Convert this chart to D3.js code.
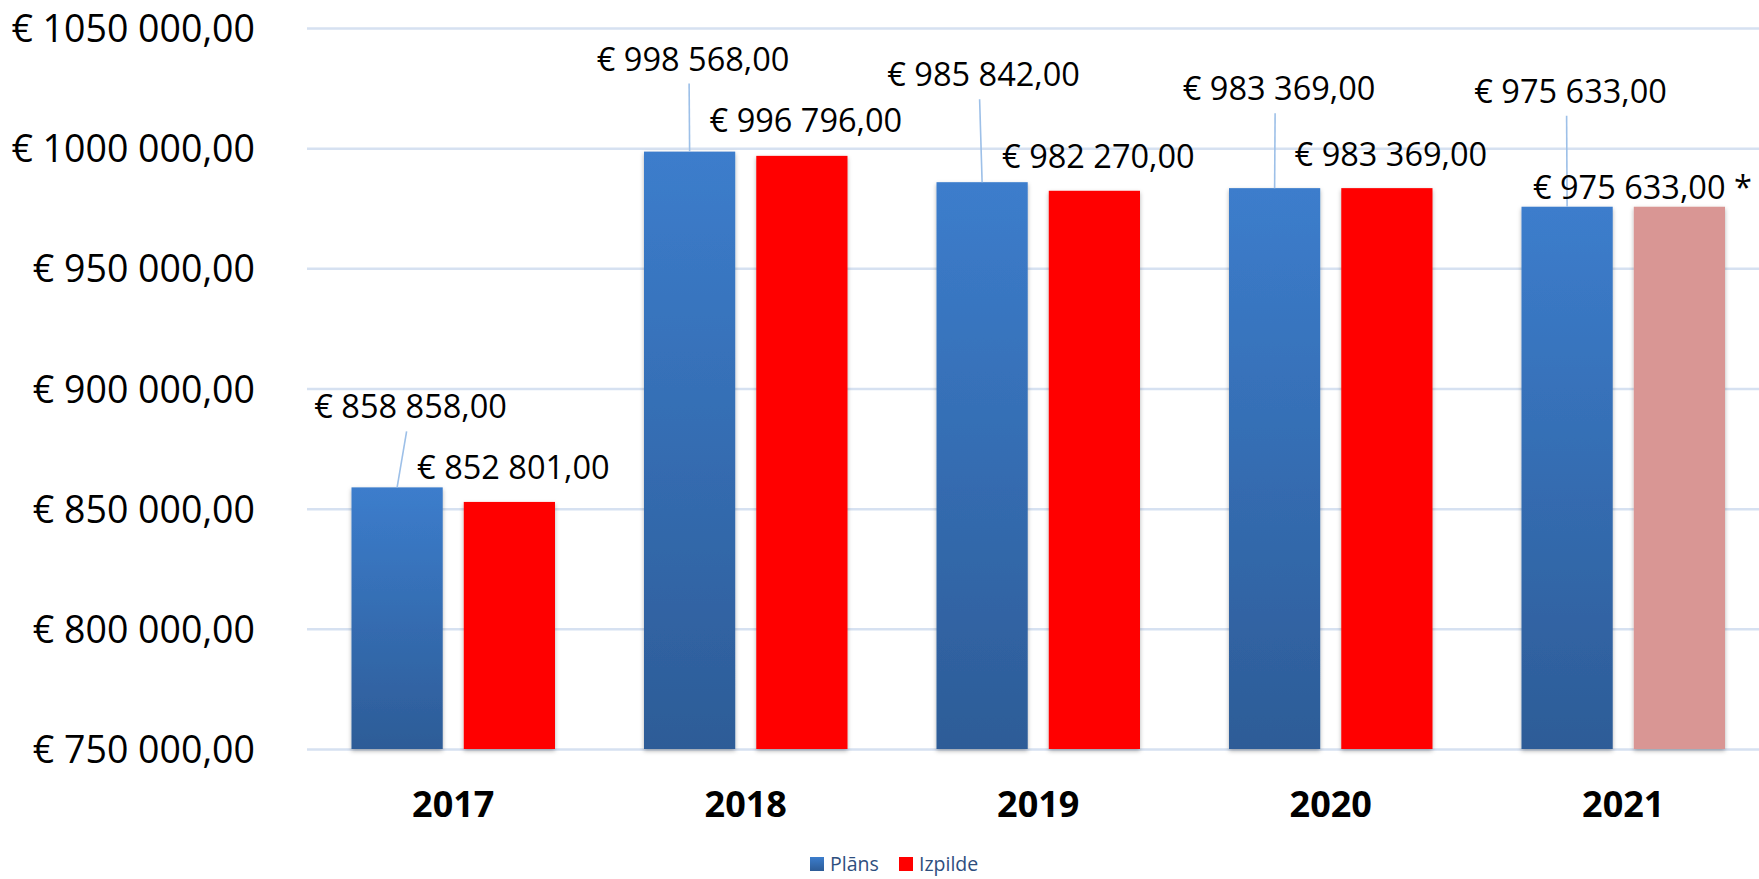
<!DOCTYPE html>
<html>
<head>
<meta charset="utf-8">
<script src="https://cdn.jsdelivr.net/npm/d3@7.9.0/dist/d3.min.js"></script>
<style>
  body { margin: 0; background: #fff; }
  svg { display: block; font-family: 'Open Sans', sans-serif; }
</style>
</head>
<body>
<svg id="chart" width="1759" height="879"></svg>
<script>
// ---- data ----
const years = ["2017", "2018", "2019", "2020", "2021"];
const plans = [858858, 998568, 985842, 983369, 975633];     // Plāns
const izpilde = [852801, 996796, 982270, 983369, 975633];   // Izpilde
const izpildeNote = ["", "", "", "", " *"];                 // 2021 not final
const yTicks = [750000, 800000, 850000, 900000, 950000, 1000000, 1050000];
const seriesNames = ["Plāns", "Izpilde"];

// hand-placed label nudges from the original (px, relative to bar top centre)
const planLabelNudge = [[13.5, -69], [3.5, -81], [1.5, -96], [4.5, -88], [3.5, -104]];
const izpLabelNudge = [[4, -23], [4, -24], [4, -23], [4, -22], [-37, -8]];

// ---- layout ----
const svg = d3.select("#chart");
const plotLeft = 307, plotRight = 1769.5, plotTop = 28, plotBottom = 749;
const FONT = "'Open Sans', sans-serif";

const x = d3.scaleBand().domain(years).range([plotLeft, plotRight]);
const xs = d3.scaleBand().domain(seriesNames)
    .range([44.5, x.bandwidth() - 44.5])
    .paddingInner(0.1875);
const y = d3.scaleLinear().domain([750000, 1050000]).range([plotBottom, plotTop]);

// "€ 1050 000,00" style
function euro(v) {
    const s = String(Math.round(v));
    return "€ " + s.slice(0, -3) + " " + s.slice(-3) + ",00";
}

const defs = svg.append("defs");
const grad = defs.append("linearGradient")
    .attr("id", "blueGrad").attr("x1", 0).attr("y1", 0).attr("x2", 0).attr("y2", 1);
grad.append("stop").attr("offset", "0%").attr("stop-color", "#3C7DCC");
grad.append("stop").attr("offset", "100%").attr("stop-color", "#2D5C97");

const shadow = defs.append("filter").attr("id", "shadow")
    .attr("x", "-20%").attr("y", "-5%").attr("width", "140%").attr("height", "115%");
shadow.append("feDropShadow")
    .attr("dx", 0).attr("dy", 2).attr("stdDeviation", 2)
    .attr("flood-color", "#000").attr("flood-opacity", 0.3);

// gridlines + y labels
const yAxis = d3.axisLeft(y).tickValues(yTicks).tickSize(-(1759 - plotLeft)).tickFormat(euro).tickPadding(52);
const gy = svg.append("g").attr("transform", `translate(${plotLeft},0)`).call(yAxis)
    .attr("font-family", FONT);
gy.select(".domain").remove();
gy.selectAll(".tick line").attr("stroke", "#D6E1F1").attr("stroke-width", 2.5);
gy.selectAll(".tick text")
    .attr("fill", "#000")
    .attr("font-size", 37.5)
    .attr("dy", "0.36em");

// x labels
const xAxis = d3.axisBottom(x).tickSize(0).tickPadding(0);
const gx = svg.append("g").attr("transform", `translate(0,${plotBottom})`).call(xAxis)
    .attr("font-family", FONT);
gx.select(".domain").remove();
gx.selectAll(".tick text")
    .attr("fill", "#000")
    .attr("font-size", 36)
    .attr("font-weight", "bold")
    .attr("dy", 68);

// bars
const rows = years.map((yr, i) => ({ yr, i, plan: plans[i], izp: izpilde[i] }));

const groups = svg.selectAll("g.year")
    .data(rows)
    .join("g")
    .attr("class", "year")
    .attr("transform", d => `translate(${x(d.yr)},0)`);

groups.append("rect")
    .attr("x", xs("Plāns"))
    .attr("width", xs.bandwidth())
    .attr("y", d => y(d.plan))
    .attr("height", d => y(750000) - y(d.plan))
    .attr("fill", "url(#blueGrad)")
    .attr("filter", "url(#shadow)");

groups.append("rect")
    .attr("x", xs("Izpilde"))
    .attr("width", xs.bandwidth())
    .attr("y", d => y(d.izp))
    .attr("height", d => y(750000) - y(d.izp))
    .attr("fill", d => izpildeNote[d.i] ? "#D99694" : "#FF0000")
    .attr("filter", "url(#shadow)");

// plan labels with leader lines, izpilde labels above bars
groups.each(function (d) {
    const g = d3.select(this);
    const cx = xs("Plāns") + xs.bandwidth() / 2;
    const barTop = y(d.plan);
    const [dx, dy] = planLabelNudge[d.i];
    const lx = cx + dx, ly = barTop + dy;

    g.append("line")
        .attr("x1", lx - 4).attr("y1", ly + 13)
        .attr("x2", cx).attr("y2", barTop)
        .attr("stroke", "#9DC0E8").attr("stroke-width", 1.6);

    g.append("text")
        .attr("x", lx).attr("y", ly)
        .attr("text-anchor", "middle")
        .attr("font-size", 32.5)
        .attr("fill", "#000")
        .text(euro(d.plan));

    const cx2 = xs("Izpilde") + xs.bandwidth() / 2;
    const [dx2, dy2] = izpLabelNudge[d.i];
    g.append("text")
        .attr("x", cx2 + dx2).attr("y", y(d.izp) + dy2)
        .attr("text-anchor", "middle")
        .attr("font-size", 32.5)
        .attr("fill", "#000")
        .text(euro(d.izp) + izpildeNote[d.i]);
});

// legend
const legendX = [810, 899];
const legendFill = ["url(#blueGrad)", "#FF0000"];
const legend = svg.append("g").attr("class", "legend");
seriesNames.forEach((name, i) => {
    legend.append("rect")
        .attr("x", legendX[i]).attr("y", 857)
        .attr("width", 14).attr("height", 14)
        .attr("fill", legendFill[i]);
    legend.append("text")
        .attr("x", legendX[i] + 20).attr("y", 871)
        .attr("font-size", 19.5)
        .attr("fill", "#2E4E7E")
        .text(name);
});
</script>
</body>
</html>
